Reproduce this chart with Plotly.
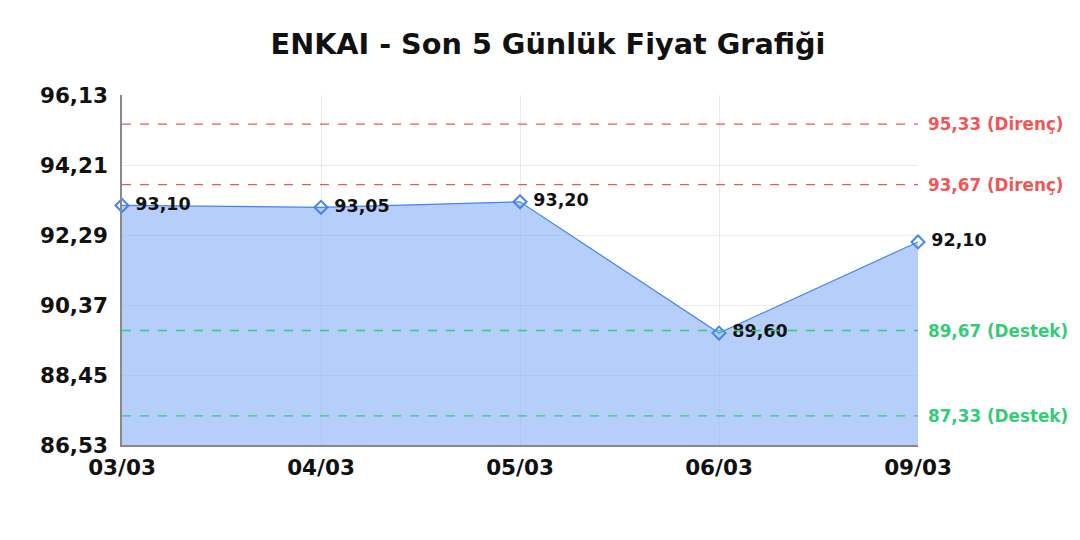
import plotly.graph_objects as go

dates = ["03/03", "04/03", "05/03", "06/03", "09/03"]
prices = [93.10, 93.05, 93.20, 89.60, 92.10]
resistance = [95.33, 93.67]
support = [89.67, 87.33]
y_ticks = [86.53, 88.45, 90.37, 92.29, 94.21, 96.13]

def tr(v):
    return f"{v:.2f}".replace(".", ",")

FONT = "DejaVu Sans"
RED = "#f05656"
GREEN = "#33cc77"
BLUE = "#4285f4"

fig = go.Figure()
fig.add_trace(go.Scatter(
    x=list(range(len(dates))), y=prices, mode="lines+markers+text",
    fill="tozeroy", fillcolor="rgba(122,166,245,0.55)",
    line=dict(color=BLUE, width=1.2),
    marker=dict(symbol="diamond-open", size=10, color=BLUE, line=dict(width=2)),
    text=[" " + tr(p) for p in prices], textposition="middle right",
    textfont=dict(family=FONT, size=17.5, color="#111111", weight="bold"),
    cliponaxis=False, hoverinfo="skip", showlegend=False,
))

shapes = []
annotations = []
for v in resistance:
    shapes.append(dict(type="line", xref="paper", x0=0, x1=1, yref="y", y0=v, y1=v,
                       line=dict(color=RED, width=1.3, dash="dash"), layer="above"))
    annotations.append(dict(x=1, xref="paper", y=v, yref="y", text=f"{tr(v)} (Direnç)",
                            showarrow=False, xanchor="left", xshift=8,
                            font=dict(family=FONT, size=16.8, color=RED, weight="bold")))
for v in support:
    shapes.append(dict(type="line", xref="paper", x0=0, x1=1, yref="y", y0=v, y1=v,
                       line=dict(color=GREEN, width=1.3, dash="dash"), layer="above"))
    annotations.append(dict(x=1, xref="paper", y=v, yref="y", text=f"{tr(v)} (Destek)",
                            showarrow=False, xanchor="left", xshift=8,
                            font=dict(family=FONT, size=16.8, color=GREEN, weight="bold")))

fig.update_layout(
    width=1080, height=540,
    margin=dict(l=114, r=170, t=87, b=103),
    paper_bgcolor="white", plot_bgcolor="white",
    title=dict(text="ENKAI - Son 5 Günlük Fiyat Grafiği", x=0.5, xanchor="center",
               y=0.933, yanchor="middle",
               font=dict(family=FONT, size=28.7, color="#111111", weight="bold")),
    xaxis=dict(range=[0, len(dates) - 1], tickvals=list(range(len(dates))), ticktext=dates,
               showgrid=True, gridcolor="rgba(0,0,0,0.08)", gridwidth=1,
               showline=True, linecolor="#888888", linewidth=1.5, zeroline=False,
               ticks="", ticklabelstandoff=2,
               tickfont=dict(family=FONT, size=21.5, color="#111111", weight="bold"),
               layer="above traces"),
    yaxis=dict(range=[y_ticks[0], y_ticks[-1]], tickvals=y_ticks, ticktext=[tr(v) for v in y_ticks],
               showgrid=True, gridcolor="rgba(0,0,0,0.08)", gridwidth=1,
               showline=True, linecolor="#888888", linewidth=1.5, zeroline=False,
               ticks="", ticklabelstandoff=8,
               tickfont=dict(family=FONT, size=21.5, color="#111111", weight="bold"),
               layer="above traces"),
    shapes=shapes, annotations=annotations,
)

fig.write_html("out.html")
